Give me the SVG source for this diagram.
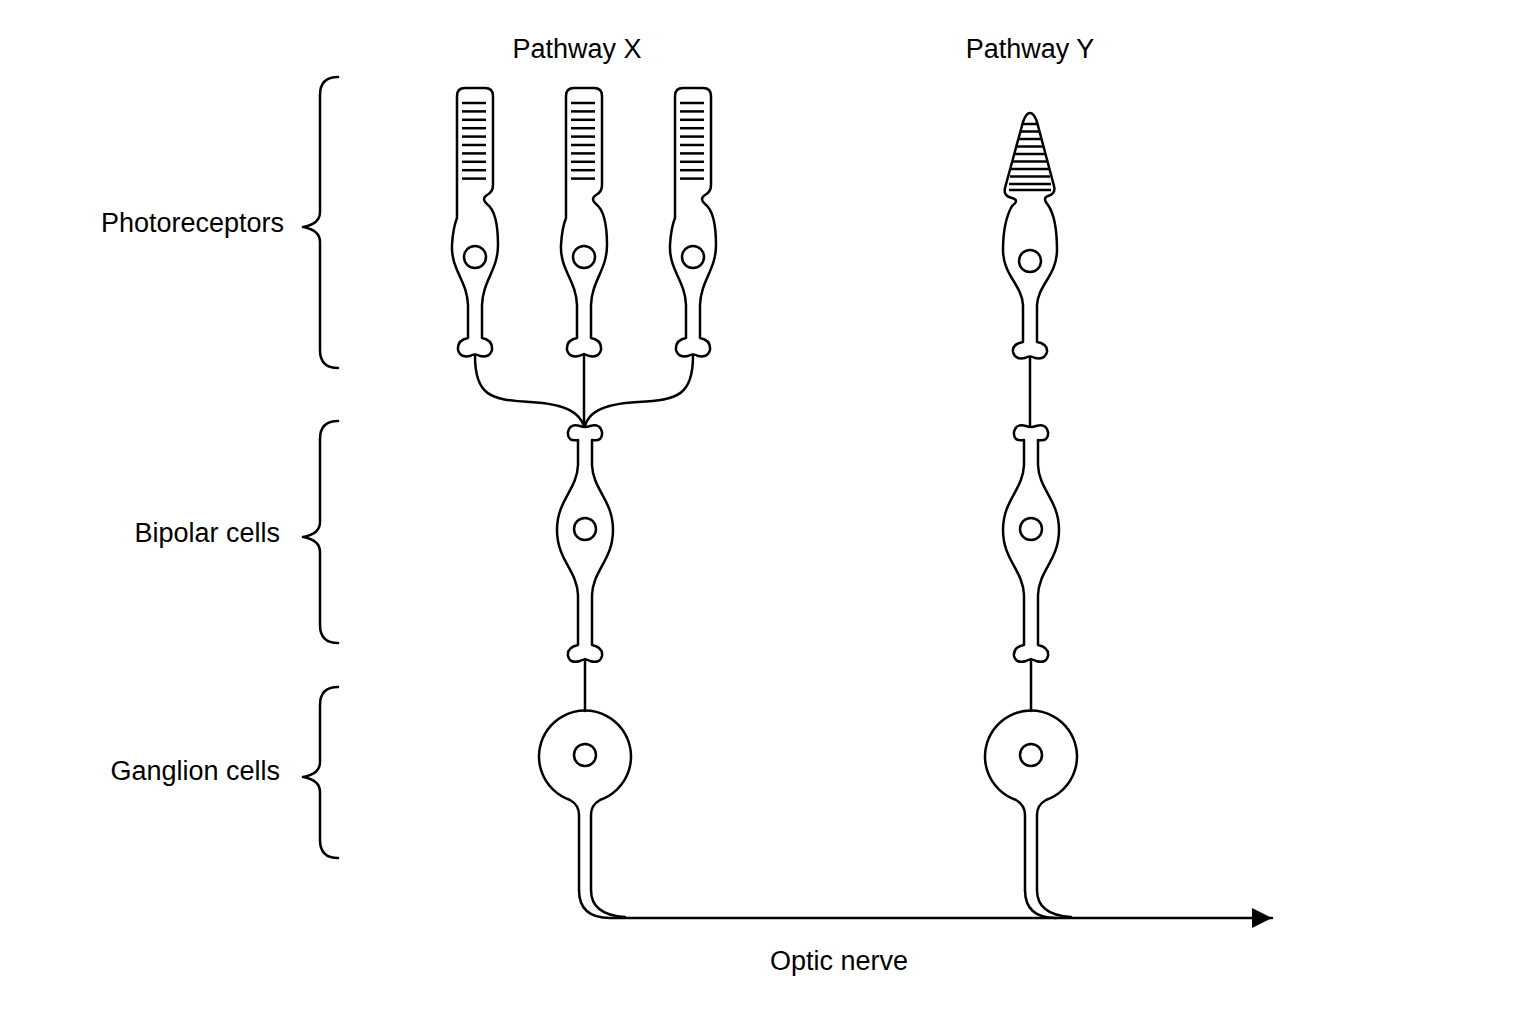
<svg xmlns="http://www.w3.org/2000/svg" xmlns:xlink="http://www.w3.org/1999/xlink" width="1536" height="1024" viewBox="0 0 1536 1024">
<style>
.s{fill:none;stroke:#000;stroke-width:2.5;stroke-linejoin:round;stroke-linecap:round}
.st{stroke:#000;stroke-width:2.5}
.t{font-family:"Liberation Sans",Arial,sans-serif;font-size:27px;fill:#000}
</style>
<defs>
<marker id="ar" markerWidth="22" markerHeight="20" refX="20" refY="10" orient="auto" markerUnits="userSpaceOnUse"><path d="M0,0 L20,10 L0,20 Z" fill="#000"/></marker>
<g id="rod">
<path class="s" d="M-18,96 Q-18,88 -10,88 L10,88 Q18,88 18,96 L18,185 Q18,192 12,195 Q6,199 12,204 Q23,212 23,245 C23,270 8,280 7,305 L7,338 Q18,340 17,350 Q15,358 5,356 Q0,353 -5,356 Q-15,358 -17,350 Q-18,340 -7,338 L-7,305 C-8,280 -24,270 -23,245 Q-22,228 -18,218 Z"/>
<circle class="s" cx="0" cy="257" r="11"/>
<g class="st"><line x1="-13" y1="103" x2="11" y2="103"/><line x1="-13" y1="111.4" x2="11" y2="111.4"/><line x1="-13" y1="119.8" x2="11" y2="119.8"/><line x1="-13" y1="128.2" x2="11" y2="128.2"/><line x1="-13" y1="136.6" x2="11" y2="136.6"/><line x1="-13" y1="145" x2="11" y2="145"/><line x1="-13" y1="153.4" x2="11" y2="153.4"/><line x1="-13" y1="161.8" x2="11" y2="161.8"/><line x1="-13" y1="170.2" x2="11" y2="170.2"/><line x1="-13" y1="178.6" x2="11" y2="178.6"/></g>
</g>
<g id="bip">
<path class="s" d="M-7,440 Q-18,442 -17,432 Q-15,423 -5,426 Q0,428 5,426 Q15,423 17,432 Q18,442 7,440 L7,465 C8,490 28,500 28,530 C28,560 8,570 7,595 L7,645 Q18,647 17,656 Q15,664 5,661 Q0,658 -5,661 Q-15,664 -17,656 Q-18,647 -7,645 L-7,595 C-8,570 -28,560 -28,530 C-28,500 -8,490 -7,465 Z"/>
<circle class="s" cx="0" cy="529" r="11"/>
<line class="s" x1="0" y1="659" x2="0" y2="711"/>
<path class="s" d="M-6,890 L-6,815 Q-6,805 -15,800 A46 46 0 1 1 15,800 Q6,805 6,815 L6,890"/>
<circle class="s" cx="0" cy="755" r="11"/>
</g>
</defs>
<g id="pathway-x">
<use xlink:href="#rod" x="475"/>
<use xlink:href="#rod" x="584"/>
<use xlink:href="#rod" x="693"/>
<use xlink:href="#bip" x="585"/>
</g>
<g id="pathway-y">
<g transform="translate(1030,0)">
<path class="s" d="M-7,122 Q-4,113 0,113 Q4,113 7,122 L24,186 Q26,194 18,196 Q12,198 18,205 Q27,218 27,250 C27,275 8,285 7,305 L7,342 Q18,344 17,352 Q15,360 5,358 Q0,355 -5,358 Q-15,360 -17,352 Q-18,344 -7,342 L-7,305 C-8,285 -27,275 -27,250 Q-27,222 -18,206 Q-10,200 -18,198 Q-27,196 -25,188 Z"/>
<circle class="s" cx="0" cy="261" r="11"/>
<g class="st"><line x1="-7" y1="124" x2="7" y2="124"/><line x1="-9" y1="131.5" x2="9" y2="131.5"/><line x1="-11" y1="139" x2="11" y2="139"/><line x1="-13" y1="146.5" x2="13" y2="146.5"/><line x1="-15" y1="154" x2="15" y2="154"/><line x1="-17" y1="161.5" x2="17" y2="161.5"/><line x1="-19" y1="169" x2="19" y2="169"/><line x1="-20" y1="176.5" x2="20" y2="176.5"/><line x1="-21" y1="184" x2="21" y2="184"/><line x1="-21" y1="190" x2="21" y2="190"/></g>
</g>
<use xlink:href="#bip" x="1031"/>
</g>
<g id="connectors">
<path class="s" d="M475,356 C475,395 490,400 530,402 C570,404 580,415 584,426"/>
<path class="s" d="M693,356 C693,395 678,400 638,402 C598,404 588,415 585,426"/>
<line class="s" x1="584" y1="354" x2="584" y2="426"/>
<line class="s" x1="1030" y1="357" x2="1030" y2="426"/>
<path class="s" d="M579,890 Q579,918 610,918 L1272,918" marker-end="url(#ar)"/>
<path class="s" d="M591,890 Q591,915 625,917"/>
<path class="s" d="M1025,890 Q1025,918 1056,918"/>
<path class="s" d="M1037,890 Q1037,915 1071,917"/>
</g>
<g id="brackets">
<path class="s" d="M338,77 Q320,77 320,95 L320,212 Q320,224 303,227 Q320,230 320,242 L320,350 Q320,368 338,368"/>
<path class="s" d="M338,421 Q320,421 320,439 L320,522 Q320,534 303,537 Q320,540 320,552 L320,625 Q320,643 338,643"/>
<path class="s" d="M338,687 Q320,687 320,705 L320,762 Q320,774 303,777 Q320,780 320,792 L320,840 Q320,858 338,858"/>
</g>
<g id="labels">
<text class="t" x="577" y="58" text-anchor="middle">Pathway X</text>
<text class="t" x="1030" y="58" text-anchor="middle">Pathway Y</text>
<text class="t" x="284" y="232" text-anchor="end">Photoreceptors</text>
<text class="t" x="280" y="542" text-anchor="end">Bipolar cells</text>
<text class="t" x="280" y="780" text-anchor="end">Ganglion cells</text>
<text class="t" x="839" y="970" text-anchor="middle">Optic nerve</text>
</g>
</svg>
